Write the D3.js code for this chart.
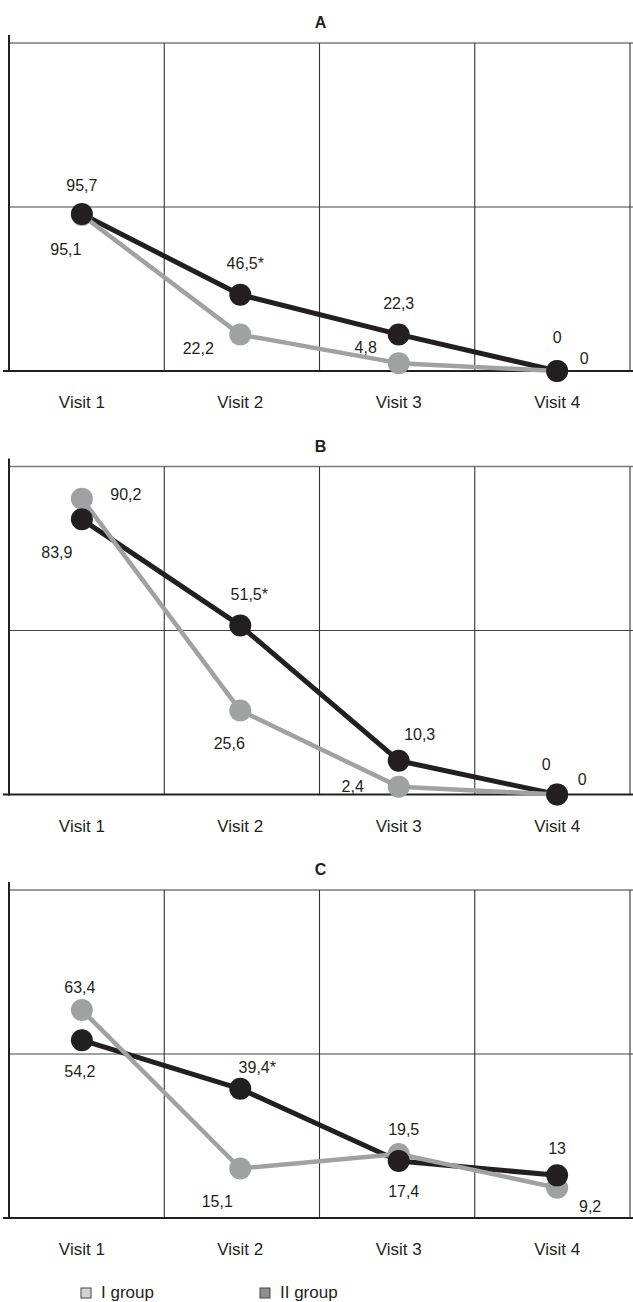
<!DOCTYPE html>
<html>
<head>
<meta charset="utf-8">
<script src="https://cdn.jsdelivr.net/npm/d3@7"></script>
<style>
  html, body { margin: 0; padding: 0; background: #fff; }
  svg { display: block; font-family: "Liberation Sans", Arial, Helvetica, sans-serif; }
</style>
</head>
<body>
<svg id="chart" width="633" height="1302"></svg>
<script>
// ---------- data ----------
const visits = ["Visit 1", "Visit 2", "Visit 3", "Visit 4"];
const panelNames = ["A", "B", "C"];
const groupNames = ["I group", "II group"];

const groupI_A  = [95.1, 22.2, 4.8, 0];
const groupII_A = [95.7, 46.5, 22.3, 0];
const groupI_B  = [90.2, 25.6, 2.4, 0];
const groupII_B = [83.9, 51.5, 10.3, 0];
const groupI_C  = [63.4, 15.1, 19.5, 9.2];
const groupII_C = [54.2, 39.4, 17.4, 13];

// significance marks (*) on group II values
const starII_A = [false, true, false, false];
const starII_B = [false, true, false, false];
const starII_C = [false, true, false, false];

const yMaxes = [200, 100, 100];

// ---------- layout / style (not data) ----------
const W = 633;
const plotLeft = 9, plotRight = 630, plotH = 328;
const panelTops = [43, 466.5, 890];
const colI = "#a0a1a3", colII = "#231f20";
// label offsets (dx, dy of label centre from point centre)
const offI = [
  [[-16, 34], [-42, 14], [-33, -16], [27, -13]],
  [[44, -4], [-11, 33], [-46, 0], [25, -15]],
  [[-2, -23], [-23, 33], [5, -25], [33, 18]]
];
const offII = [
  [[0, -29], [5, -32], [0, -31], [0, -34]],
  [[-25, 33], [9, -31], [21, -26], [-11, -30]],
  [[-2, 31], [17, -22], [5, 30], [0, -27]]
];

const panels = [
  { name: panelNames[0], I: groupI_A, II: groupII_A, star: starII_A, yMax: yMaxes[0] },
  { name: panelNames[1], I: groupI_B, II: groupII_B, star: starII_B, yMax: yMaxes[1] },
  { name: panelNames[2], I: groupI_C, II: groupII_C, star: starII_C, yMax: yMaxes[2] }
];

const fmt = v => String(v).replace(".", ",");

const svg = d3.select("#chart");

const xPoint = d3.scalePoint().domain(visits).range([plotLeft, plotRight]).padding(0.46);
const xBand = d3.scaleBand().domain(visits).range([plotLeft, plotRight]);

panels.forEach((p, pi) => {
  const top = panelTops[pi], bottom = top + plotH;
  const y = d3.scaleLinear().domain([0, p.yMax]).range([bottom, top]);
  const g = svg.append("g");

  // title
  g.append("text")
    .attr("x", (plotLeft + plotRight) / 2 + 1)
    .attr("y", top - 15)
    .attr("text-anchor", "middle")
    .attr("font-weight", "bold")
    .attr("font-size", 16)
    .attr("fill", "#231f20")
    .text(p.name);

  // top border
  g.append("line")
    .attr("x1", plotLeft).attr("x2", W)
    .attr("y1", y(p.yMax)).attr("y2", y(p.yMax))
    .attr("stroke", "#7a7a7a").attr("stroke-width", 1.5);

  // horizontal middle grid
  g.append("line")
    .attr("x1", plotLeft).attr("x2", W)
    .attr("y1", y(p.yMax / 2)).attr("y2", y(p.yMax / 2))
    .attr("stroke", "#444").attr("stroke-width", 1.2);

  // vertical grid at band edges
  g.selectAll("line.vg").data(visits).enter().append("line")
    .attr("class", "vg")
    .attr("x1", d => xBand(d) + xBand.bandwidth())
    .attr("x2", d => xBand(d) + xBand.bandwidth())
    .attr("y1", y(p.yMax)).attr("y2", y(0))
    .attr("stroke", "#333").attr("stroke-width", 1.1);

  // axes
  g.append("line")
    .attr("x1", plotLeft).attr("x2", plotLeft)
    .attr("y1", y(p.yMax) - 8).attr("y2", y(0) + 1)
    .attr("stroke", "#231f20").attr("stroke-width", 2);
  g.append("line")
    .attr("x1", 3).attr("x2", W)
    .attr("y1", y(0)).attr("y2", y(0))
    .attr("stroke", "#231f20").attr("stroke-width", 2);

  // x labels
  g.selectAll("text.xl").data(visits).enter().append("text")
    .attr("class", "xl")
    .attr("x", d => xPoint(d))
    .attr("y", y(0) + 37)
    .attr("text-anchor", "middle")
    .attr("font-size", 17)
    .attr("fill", "#231f20")
    .text(d => d);

  const line = d3.line().x((d, i) => xPoint(visits[i])).y(d => y(d));

  // lines
  g.append("path").datum(p.II).attr("d", line)
    .attr("fill", "none").attr("stroke", colII).attr("stroke-width", 5).attr("stroke-linejoin", "round");
  g.append("path").datum(p.I).attr("d", line)
    .attr("fill", "none").attr("stroke", colI).attr("stroke-width", 4.5).attr("stroke-linejoin", "round");

  // points
  g.selectAll("circle.pI").data(p.I).enter().append("circle")
    .attr("class", "pI")
    .attr("cx", (d, i) => xPoint(visits[i])).attr("cy", d => y(d)).attr("r", 11)
    .attr("fill", colI);
  g.selectAll("circle.pII").data(p.II).enter().append("circle")
    .attr("class", "pII")
    .attr("cx", (d, i) => xPoint(visits[i])).attr("cy", d => y(d)).attr("r", 11)
    .attr("fill", colII);

  // value labels
  g.selectAll("text.lI").data(p.I).enter().append("text")
    .attr("class", "lI")
    .attr("x", (d, i) => xPoint(visits[i]) + offI[pi][i][0])
    .attr("y", (d, i) => y(d) + offI[pi][i][1])
    .attr("dy", "0.36em")
    .attr("text-anchor", "middle")
    .attr("font-size", 16)
    .attr("fill", "#231f20")
    .text(d => fmt(d));
  g.selectAll("text.lII").data(p.II).enter().append("text")
    .attr("class", "lII")
    .attr("x", (d, i) => xPoint(visits[i]) + offII[pi][i][0])
    .attr("y", (d, i) => y(d) + offII[pi][i][1])
    .attr("dy", "0.36em")
    .attr("text-anchor", "middle")
    .attr("font-size", 16)
    .attr("fill", "#231f20")
    .text((d, i) => fmt(d) + (p.star[i] ? "*" : ""));
});

// legend
const legendX = [81, 260];
const legendFill = ["#d4d4d4", "#8f8f8f"];
const lg = svg.append("g");
groupNames.forEach((name, i) => {
  lg.append("rect")
    .attr("x", legendX[i]).attr("y", 1288)
    .attr("width", 10).attr("height", 10)
    .attr("fill", legendFill[i]).attr("stroke", "#444").attr("stroke-width", 1);
  lg.append("text")
    .attr("x", legendX[i] + 20).attr("y", 1298)
    .attr("font-size", 17)
    .attr("fill", "#231f20")
    .text(name);
});
</script>
</body>
</html>
